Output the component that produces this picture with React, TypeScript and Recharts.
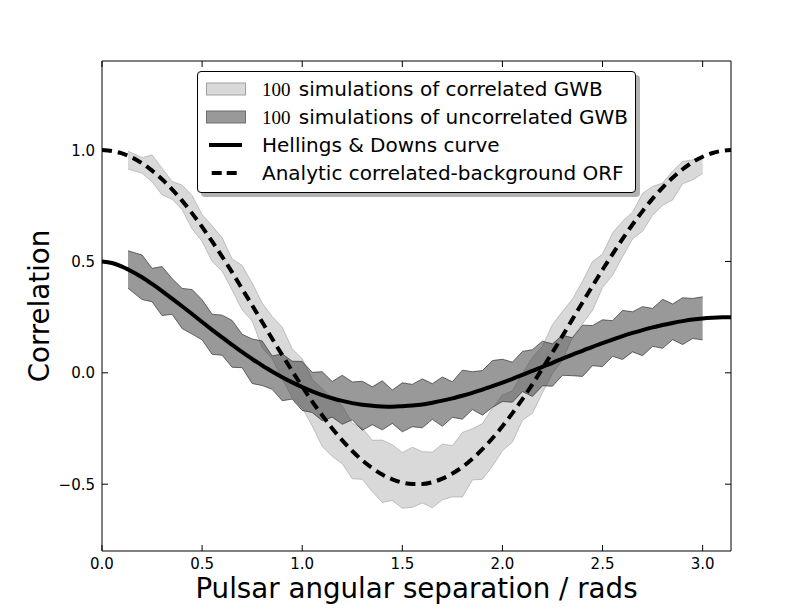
import React from 'react';
import { ComposedChart, Area, Line, XAxis, YAxis, Legend } from 'recharts';

// Smooth reference curves
const curveX = [0, 0.05, 0.1, 0.13, 0.2, 0.25, 0.3, 0.35, 0.4, 0.45, 0.5, 0.55, 0.6, 0.65, 0.7, 0.75, 0.8, 0.85, 0.9, 0.95, 1.0, 1.05, 1.1, 1.15, 1.2, 1.25, 1.3, 1.35, 1.4, 1.45, 1.5, 1.55, 1.6, 1.65, 1.7, 1.75, 1.8, 1.85, 1.9, 1.95, 2.0, 2.05, 2.1, 2.15, 2.2, 2.25, 2.3, 2.35, 2.4, 2.45, 2.5, 2.55, 2.6, 2.65, 2.7, 2.75, 2.8, 2.85, 2.9, 2.95, 3.0, 3.05, 3.1, 3.1416];
const hdCurve = [0.500, 0.493, 0.477, 0.464, 0.429, 0.399, 0.367, 0.333, 0.299, 0.264, 0.228, 0.193, 0.159, 0.125, 0.093, 0.062, 0.033, 0.006, -0.020, -0.043, -0.064, -0.083, -0.100, -0.114, -0.126, -0.136, -0.143, -0.148, -0.151, -0.152, -0.150, -0.147, -0.142, -0.134, -0.125, -0.115, -0.103, -0.090, -0.075, -0.060, -0.044, -0.027, -0.009, 0.009, 0.027, 0.045, 0.064, 0.082, 0.099, 0.117, 0.133, 0.149, 0.165, 0.179, 0.192, 0.204, 0.215, 0.224, 0.232, 0.239, 0.244, 0.247, 0.249, 0.250];
const orfCurve = [1.000, 0.996, 0.985, 0.975, 0.941, 0.908, 0.869, 0.824, 0.773, 0.716, 0.655, 0.590, 0.522, 0.451, 0.377, 0.303, 0.228, 0.153, 0.080, 0.008, -0.062, -0.129, -0.191, -0.250, -0.303, -0.351, -0.393, -0.428, -0.457, -0.478, -0.493, -0.499, -0.499, -0.491, -0.475, -0.452, -0.423, -0.386, -0.343, -0.294, -0.240, -0.181, -0.118, -0.051, 0.020, 0.092, 0.166, 0.241, 0.316, 0.390, 0.463, 0.533, 0.601, 0.666, 0.726, 0.782, 0.832, 0.876, 0.914, 0.946, 0.970, 0.987, 0.997, 1.000];

// Simulation envelopes
const bandX = [0.13, 0.2, 0.25, 0.3, 0.35, 0.4, 0.45, 0.5, 0.55, 0.6, 0.65, 0.7, 0.75, 0.8, 0.85, 0.9, 0.95, 1.0, 1.05, 1.1, 1.15, 1.2, 1.25, 1.3, 1.35, 1.4, 1.45, 1.5, 1.55, 1.6, 1.65, 1.7, 1.75, 1.8, 1.85, 1.9, 1.95, 2.0, 2.05, 2.1, 2.15, 2.2, 2.25, 2.3, 2.35, 2.4, 2.45, 2.5, 2.55, 2.6, 2.65, 2.7, 2.75, 2.8, 2.85, 2.9, 2.95, 3.0];
const corrHigh = [0.995, 0.966, 0.978, 0.919, 0.859, 0.843, 0.796, 0.710, 0.660, 0.607, 0.511, 0.482, 0.403, 0.313, 0.253, 0.205, 0.108, 0.063, -0.029, -0.071, -0.115, -0.148, -0.226, -0.248, -0.303, -0.302, -0.323, -0.358, -0.334, -0.354, -0.356, -0.320, -0.327, -0.268, -0.251, -0.228, -0.159, -0.100, -0.081, -0.003, 0.069, 0.120, 0.217, 0.276, 0.331, 0.411, 0.500, 0.533, 0.628, 0.681, 0.721, 0.806, 0.837, 0.852, 0.906, 0.949, 0.956, 0.965];
const corrLow = [0.915, 0.896, 0.858, 0.799, 0.779, 0.733, 0.646, 0.590, 0.500, 0.457, 0.371, 0.282, 0.233, 0.113, 0.063, -0.025, -0.112, -0.157, -0.239, -0.331, -0.375, -0.408, -0.476, -0.478, -0.533, -0.582, -0.573, -0.608, -0.604, -0.584, -0.606, -0.570, -0.557, -0.558, -0.481, -0.478, -0.419, -0.350, -0.311, -0.213, -0.181, -0.090, -0.003, 0.056, 0.161, 0.221, 0.280, 0.383, 0.438, 0.521, 0.601, 0.636, 0.707, 0.752, 0.776, 0.849, 0.866, 0.895];
const uncorrHigh = [0.548, 0.529, 0.469, 0.477, 0.423, 0.379, 0.374, 0.328, 0.263, 0.259, 0.235, 0.173, 0.152, 0.143, 0.076, 0.085, 0.052, 0.051, 0.002, 0.005, -0.039, -0.011, -0.041, -0.038, -0.063, -0.036, -0.077, -0.045, -0.052, -0.027, -0.049, -0.019, -0.040, 0.012, 0.005, 0.010, 0.055, 0.061, 0.048, 0.096, 0.104, 0.142, 0.130, 0.169, 0.157, 0.214, 0.212, 0.238, 0.234, 0.280, 0.274, 0.297, 0.289, 0.330, 0.309, 0.337, 0.334, 0.341];
const uncorrLow = [0.380, 0.329, 0.319, 0.257, 0.263, 0.199, 0.174, 0.148, 0.083, 0.079, 0.025, 0.023, -0.048, -0.057, -0.074, -0.125, -0.118, -0.169, -0.178, -0.215, -0.199, -0.231, -0.211, -0.258, -0.233, -0.256, -0.227, -0.265, -0.242, -0.247, -0.209, -0.240, -0.200, -0.208, -0.165, -0.190, -0.155, -0.129, -0.132, -0.084, -0.106, -0.058, -0.060, -0.011, -0.013, -0.016, 0.032, 0.028, 0.074, 0.060, 0.094, 0.077, 0.119, 0.110, 0.149, 0.127, 0.154, 0.148];

const xTicks = [0, 0.5, 1.0, 1.5, 2.0, 2.5, 3.0];
const yTicks = [-0.5, 0, 0.5, 1.0];
const legendSim = ['simulations of correlated GWB', 'simulations of uncorrelated GWB'];
const legendSimCount = '100';
const legendLines = ['Hellings & Downs curve', 'Analytic correlated-background ORF'];
const xLabel = 'Pulsar angular separation / rads';
const yLabel = 'Correlation';

const curveData = curveX.map((x, i) => ({ x, hd: hdCurve[i], orf: orfCurve[i] }));
const bandData = bandX.map((x, i) => ({
  x,
  corr: [corrLow[i], corrHigh[i]],
  uncorr: [uncorrLow[i], uncorrHigh[i]],
}));

const FONT = '"DejaVu Sans", sans-serif';
const TICK_LEN = 6;
const fmt = (v: number) => (v < 0 ? '\u2212' + Math.abs(v).toFixed(1) : v.toFixed(1));

const BottomTick = (p: any) => (
  <g>
    <line x1={p.x} x2={p.x} y1={p.y} y2={p.y - TICK_LEN} stroke="#000" strokeWidth={1} />
    <text x={p.x} y={p.y + 18} textAnchor="middle" fontSize={15} fontFamily={FONT} fill="#000">
      {fmt(p.payload.value)}
    </text>
  </g>
);
const TopTick = (p: any) => (
  <line x1={p.x} x2={p.x} y1={p.y} y2={p.y + TICK_LEN} stroke="#000" strokeWidth={1} />
);
const LeftTick = (p: any) => (
  <g>
    <line x1={p.x} x2={p.x + TICK_LEN} y1={p.y} y2={p.y} stroke="#000" strokeWidth={1} />
    <text x={p.x - 7} y={p.y + 5.5} textAnchor="end" fontSize={15} fontFamily={FONT} fill="#000">
      {fmt(p.payload.value)}
    </text>
  </g>
);
const RightTick = (p: any) => (
  <line x1={p.x} x2={p.x - TICK_LEN} y1={p.y} y2={p.y} stroke="#000" strokeWidth={1} />
);

const XLabel = () => (
  <text x={408.5} y={590} textAnchor="middle" fontSize={27.7} fontFamily={FONT} fill="#000">
    {xLabel}
  </text>
);
const YLabel = () => (
  <text transform="translate(41, 298) rotate(-90)" x={0} y={0} textAnchor="middle" fontSize={27.7} fontFamily={FONT} fill="#000">
    {yLabel}
  </text>
);

const Swatch = ({ kind }: { kind: number }) => (
  <svg width={40} height={28} style={{ position: 'absolute', left: 8, top: 0 }}>
    {kind === 0 && <rect x={0.5} y={8} width={39} height={12} fill="#d9d9d9" stroke="#a0a0a0" />}
    {kind === 1 && <rect x={0.5} y={8} width={39} height={12} fill="#999999" stroke="#6e6e6e" />}
    {kind === 2 && <line x1={3} x2={36} y1={14} y2={14} stroke="#000" strokeWidth={4} />}
    {kind === 3 && <line x1={5.7} x2={35.7} y1={14} y2={14} stroke="#000" strokeWidth={4} strokeDasharray="10 5" />}
  </svg>
);

const LegendBox = () => {
  const rows = [
    { kind: 0, text: legendSim[0], sim: true },
    { kind: 1, text: legendSim[1], sim: true },
    { kind: 2, text: legendLines[0], sim: false },
    { kind: 3, text: legendLines[1], sim: false },
  ];
  const centers = [18.3, 45.7, 74, 102.3];
  return (
    <div
      style={{
        position: 'relative',
        width: 439,
        height: 122,
        boxSizing: 'border-box',
        background: '#fff',
        border: '1px solid #000',
        borderRadius: 4,
        boxShadow: '4px 4px 0 rgba(0,0,0,0.3)',
        fontFamily: FONT,
        fontSize: 20,
        color: '#000',
      }}
    >
      {rows.map((r, i) => (
        <div key={i} style={{ position: 'absolute', left: 0, top: centers[i] - 14 - 1, height: 28, width: 437 }}>
          <Swatch kind={r.kind} />
          <div style={{ position: 'absolute', left: 64, top: 0, height: 28, lineHeight: '28px', whiteSpace: 'nowrap' }}>
            {r.sim && (
              <span style={{ fontFamily: '"Liberation Serif", serif', fontSize: 19, marginRight: 2 }}>{legendSimCount}</span>
            )}
            {r.sim ? ' ' : ''}
            {r.text}
          </div>
        </div>
      ))}
    </div>
  );
};

export default function App() {
  return (
    <div style={{ width: 796, height: 596, position: 'relative' }}>
      <ComposedChart width={796} height={596} margin={{ top: 52, right: 72, bottom: 52, left: 93 }}>
        <XAxis
          xAxisId="bottom"
          dataKey="x"
          type="number"
          domain={[0, Math.PI]}
          allowDataOverflow
          ticks={xTicks}
          height={1}
          tickSize={0}
          tickMargin={0}
          tickLine={false}
          tick={<BottomTick />}
          axisLine={{ stroke: '#000', strokeWidth: 1 }}
          label={<XLabel />}
        />
        <XAxis
          xAxisId="top"
          orientation="top"
          dataKey="x"
          type="number"
          domain={[0, Math.PI]}
          allowDataOverflow
          ticks={xTicks}
          height={1}
          tickSize={0}
          tickMargin={0}
          tickLine={false}
          tick={<TopTick />}
          axisLine={{ stroke: '#000', strokeWidth: 1 }}
        />
        <YAxis
          yAxisId="left"
          type="number"
          domain={[-0.8, 1.4]}
          allowDataOverflow
          ticks={yTicks}
          width={1}
          tickSize={0}
          tickMargin={0}
          tickLine={false}
          tick={<LeftTick />}
          axisLine={{ stroke: '#000', strokeWidth: 1 }}
          label={<YLabel />}
        />
        <YAxis
          yAxisId="right"
          orientation="right"
          type="number"
          domain={[-0.8, 1.4]}
          allowDataOverflow
          ticks={yTicks}
          width={1}
          tickSize={0}
          tickMargin={0}
          tickLine={false}
          tick={<RightTick />}
          axisLine={{ stroke: '#000', strokeWidth: 1 }}
        />
        <Area
          xAxisId="bottom"
          yAxisId="left"
          data={bandData}
          dataKey="corr"
          type="linear"
          fill="#b3b3b3"
          fillOpacity={0.5}
          stroke="#a0a0a0"
          strokeOpacity={0.6}
          strokeWidth={1}
          isAnimationActive={false}
          dot={false}
          activeDot={false}
        />
        <Area
          xAxisId="bottom"
          yAxisId="left"
          data={bandData}
          dataKey="uncorr"
          type="linear"
          fill="#333333"
          fillOpacity={0.5}
          stroke="#333333"
          strokeOpacity={0.7}
          strokeWidth={1}
          isAnimationActive={false}
          dot={false}
          activeDot={false}
        />
        <Line
          xAxisId="bottom"
          yAxisId="left"
          data={curveData}
          dataKey="hd"
          type="monotone"
          stroke="#000"
          strokeWidth={4}
          dot={false}
          activeDot={false}
          isAnimationActive={false}
        />
        <Line
          xAxisId="bottom"
          yAxisId="left"
          data={curveData}
          dataKey="orf"
          type="monotone"
          stroke="#000"
          strokeWidth={4}
          strokeDasharray="10 6"
          dot={false}
          activeDot={false}
          isAnimationActive={false}
        />
        <Legend
          layout="vertical"
          align="center"
          verticalAlign="middle"
          content={<LegendBox />}
          wrapperStyle={{ left: 189, top: 63, width: 445, height: 128 }}
        />
      </ComposedChart>
    </div>
  );
}
